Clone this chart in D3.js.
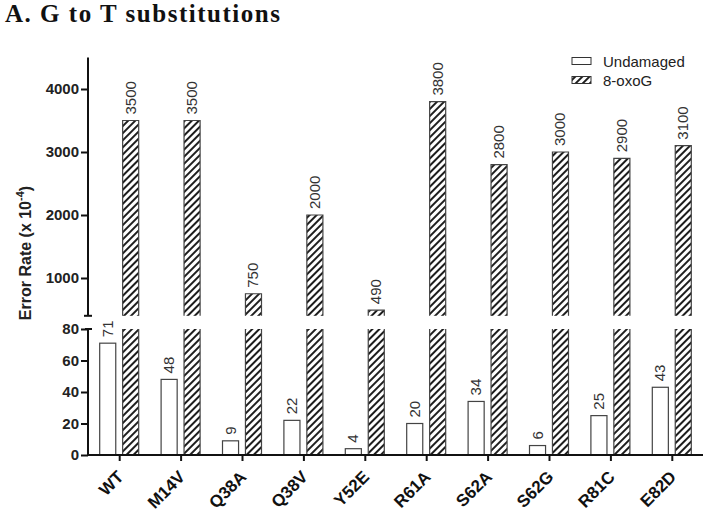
<!DOCTYPE html>
<html>
<head>
<meta charset="utf-8">
<script src="https://cdn.jsdelivr.net/npm/d3@7"></script>
<style>
  html, body { margin: 0; padding: 0; background: #fff; }
  svg { display: block; }
</style>
</head>
<body>
<svg id="chart" width="708" height="514"></svg>
<script>
const categories = ["WT", "M14V", "Q38A", "Q38V", "Y52E", "R61A", "S62A", "S62G", "R81C", "E82D"];
const undamaged = [71, 48, 9, 22, 4, 20, 34, 6, 25, 43];
const oxoG = [3500, 3500, 750, 2000, 490, 3800, 2800, 3000, 2900, 3100];
const lowerTicks = [0, 20, 40, 60, 80];
const upperTicks = [1000, 2000, 3000, 4000];
const seriesNames = ["Undamaged", "8-oxoG"];

const svg = d3.select("#chart");
const axisX = 88;
const font = "Arial, 'Liberation Sans', Helvetica, sans-serif";

const defs = svg.append("defs");
const pat = defs.append("pattern")
  .attr("id", "hatch").attr("patternUnits", "userSpaceOnUse")
  .attr("width", 5).attr("height", 5)
  .attr("patternTransform", "rotate(45)");
pat.append("rect").attr("width", 5).attr("height", 5).attr("fill", "#fff");
pat.append("line").attr("x1", 1).attr("y1", 0).attr("x2", 1).attr("y2", 5)
  .attr("stroke", "#111").attr("stroke-width", 1.9);

const x = d3.scaleBand().domain(categories).range([89, 703]).paddingInner(0).paddingOuter(0);
const sub = d3.scaleBand().domain(seriesNames).range([-20, 19]).paddingInner(0.3);
const yLow = d3.scaleLinear().domain([0, 80]).range([455, 329]);
const yUp = d3.scaleLinear().domain([400, 4500]).range([315.8, 57.5]);
const cx = c => x(c) + x.bandwidth() / 2;

svg.append("text").attr("x", 5).attr("y", 22)
  .attr("font-family", "'Liberation Serif', 'Times New Roman', serif")
  .attr("font-weight", "bold").attr("font-size", 25)
  .attr("textLength", 275).attr("lengthAdjust", "spacing")
  .attr("fill", "#111")
  .text("A. G to T substitutions");

const data = categories.map((c, i) => ({ c, u: undamaged[i], o: oxoG[i] }));
const barG = svg.append("g");

data.forEach(d => {
  const ux = cx(d.c) + sub("Undamaged");
  const w = sub.bandwidth();
  barG.append("rect")
    .attr("x", ux).attr("y", yLow(d.u))
    .attr("width", w).attr("height", yLow(0) - yLow(d.u))
    .attr("fill", "#fff").attr("stroke", "#444").attr("stroke-width", 1.2);
  barG.append("text")
    .attr("transform", `translate(${ux + w / 2 + 5},${yLow(d.u) - 6}) rotate(-90)`)
    .attr("font-family", font).attr("font-size", 15).attr("fill", "#333")
    .text(d.u);

  const ox = cx(d.c) + sub("8-oxoG");
  barG.append("rect")
    .attr("x", ox).attr("y", yLow(80))
    .attr("width", w).attr("height", yLow(0) - yLow(80))
    .attr("fill", "url(#hatch)");
  barG.append("path")
    .attr("d", `M${ox},${yLow(80)}V${yLow(0)}M${ox + w},${yLow(80)}V${yLow(0)}`)
    .attr("stroke", "#444").attr("stroke-width", 1.2).attr("fill", "none");
  barG.append("rect")
    .attr("x", ox).attr("y", yUp(d.o))
    .attr("width", w).attr("height", yUp(400) - yUp(d.o))
    .attr("fill", "url(#hatch)");
  barG.append("path")
    .attr("d", `M${ox},${yUp(400)}V${yUp(d.o)}H${ox + w}V${yUp(400)}`)
    .attr("stroke", "#444").attr("stroke-width", 1.2).attr("fill", "none");
  barG.append("text")
    .attr("transform", `translate(${ox + w / 2 + 5},${yUp(d.o) - 6}) rotate(-90)`)
    .attr("font-family", font).attr("font-size", 15).attr("fill", "#333")
    .text(d.o);
});

function styleAxis(g) {
  g.selectAll(".domain").remove();
  g.selectAll(".tick line").attr("stroke", "#111").attr("stroke-width", 2);
  g.selectAll(".tick text").attr("font-family", font).attr("font-weight", "bold")
    .attr("font-size", 15).attr("fill", "#222");
}

const gLow = svg.append("g").attr("transform", `translate(${axisX},0)`)
  .call(d3.axisLeft(yLow).tickValues(lowerTicks).tickSize(7).tickPadding(2).tickFormat(d3.format("d")));
styleAxis(gLow);
const gUp = svg.append("g").attr("transform", `translate(${axisX},0)`)
  .call(d3.axisLeft(yUp).tickValues(upperTicks).tickSize(7).tickPadding(2).tickFormat(d3.format("d")));
styleAxis(gUp);

svg.append("line").attr("x1", axisX).attr("x2", axisX).attr("y1", yLow(80)).attr("y2", yLow(0) + 1)
  .attr("stroke", "#111").attr("stroke-width", 2);
svg.append("line").attr("x1", axisX - 3).attr("x2", axisX + 4).attr("y1", yLow(80)).attr("y2", yLow(80))
  .attr("stroke", "#111").attr("stroke-width", 2);
svg.append("line").attr("x1", axisX).attr("x2", axisX).attr("y1", yUp(4500)).attr("y2", yUp(400))
  .attr("stroke", "#111").attr("stroke-width", 2);
svg.append("line").attr("x1", axisX - 4).attr("x2", axisX + 4).attr("y1", yUp(400)).attr("y2", yUp(400))
  .attr("stroke", "#111").attr("stroke-width", 2);

const gx = svg.append("g").attr("transform", `translate(0,${yLow(0)})`)
  .call(d3.axisBottom(x).tickSize(6).tickSizeOuter(0));
gx.select(".domain").remove();
gx.selectAll(".tick line").attr("stroke", "#111").attr("stroke-width", 2);
gx.selectAll(".tick text").remove();
svg.append("line").attr("x1", axisX - 1).attr("x2", 703).attr("y1", yLow(0)).attr("y2", yLow(0))
  .attr("stroke", "#111").attr("stroke-width", 2);

svg.append("g").selectAll("text").data(categories).join("text")
  .attr("transform", c => `translate(${cx(c) + 5},${yLow(0) + 23}) rotate(-45)`)
  .attr("text-anchor", "end")
  .attr("font-family", font).attr("font-weight", "bold").attr("font-size", 17)
  .attr("fill", "#111")
  .text(c => c);

const yl = svg.append("text")
  .attr("transform", `translate(31,253) rotate(-90)`)
  .attr("text-anchor", "middle")
  .attr("font-family", font).attr("font-weight", "bold").attr("font-size", 16)
  .attr("fill", "#222");
yl.append("tspan").text("Error Rate (x 10");
yl.append("tspan").attr("font-size", 11).attr("dy", -7).text("-4");
yl.append("tspan").attr("dy", 7).text(")");

const leg = svg.append("g");
seriesNames.forEach((s, i) => {
  const yy = 57.5 + i * 19;
  leg.append("rect").attr("x", 572).attr("y", yy).attr("width", 19).attr("height", 7)
    .attr("fill", i === 0 ? "#fff" : "url(#hatch)").attr("stroke", "#333").attr("stroke-width", 1);
  leg.append("text").attr("x", 603).attr("y", yy + 9)
    .attr("font-family", font).attr("font-size", 15).attr("fill", "#222")
    .text(s);
});
</script>
</body>
</html>
